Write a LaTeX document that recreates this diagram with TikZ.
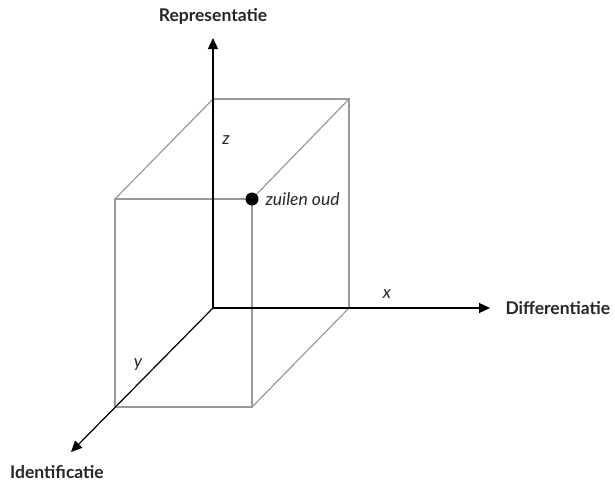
\documentclass[tikz,border=0pt]{standalone}
\usepackage{fontspec}
\setmainfont{Lato}
\usetikzlibrary{arrows.meta}
\begin{document}
\begin{tikzpicture}[x=1pt,y=-1pt,
  axis/.style={draw=black,line width=1.2pt,-{Triangle[length=11pt,width=10pt]}},
  boxline/.style={draw=black!40,line width=1.2pt},
  axlabel/.style={font=\fontsize{17.5}{20}\selectfont\bfseries,text=black!85},
  small/.style={font=\fontsize{17.5}{20}\selectfont\itshape,text=black!85}]
\useasboundingbox (0,0) rectangle (615,483);
\coordinate (O) at (213,308);
\coordinate (B1) at (213,99);
\coordinate (B2) at (349,99);
\coordinate (B3) at (349,308);
\coordinate (F1) at (115,199);
\coordinate (F2) at (252,199);
\coordinate (F3) at (252,407);
\coordinate (F4) at (115,407);
\coordinate (zt) at (213,38);
\coordinate (xt) at (490,308);
\coordinate (yt) at (71,452);
% box
\draw[boxline] (B1) -- (B2) -- (B3);
\draw[boxline] (F2) -- (B2);
\draw[boxline] (F3) -- (B3);
\draw[boxline] (F1) -- (B1);
\draw[boxline] (F1) -- (F2) -- (F3) -- (F4) -- cycle;
% axes
\draw[axis] (O) -- (zt);
\draw[axis] (O) -- (xt);
\draw[axis] (O) -- (yt);
\fill[black] (F2) circle (6.5);
% labels
\node[axlabel] (rep) at (213,16) {Representatie};
\node[axlabel,anchor=west] (dif) at (502,308) {Differentiatie};
\node[axlabel] (idf) at (57,472) {Identificatie};
\node[small] (zl) at (226,140) {z};
\node[small] (xl) at (387,294) {x};
\node[small] (yl) at (138,365) {y};
\node[small,anchor=west] (zo) at (262,199) {zuilen oud};
\end{tikzpicture}
\end{document}
